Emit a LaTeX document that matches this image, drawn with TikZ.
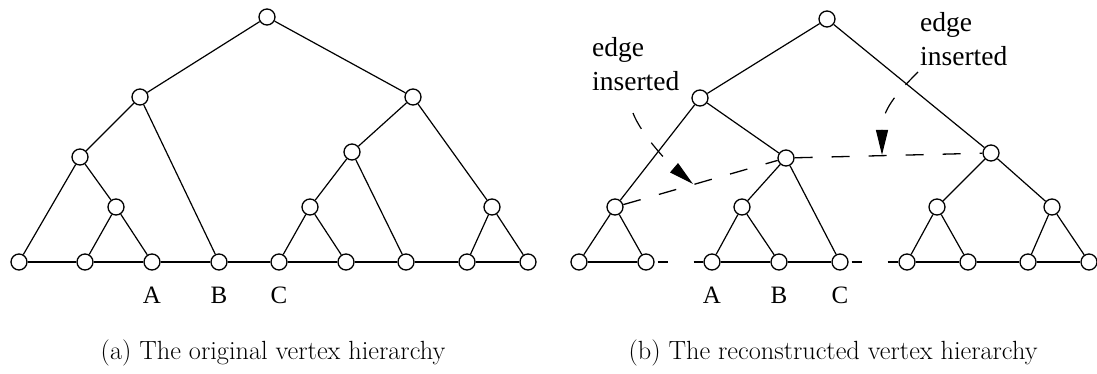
\documentclass[tikz,border=0pt]{standalone}
\usepackage{fontspec}
\newfontfamily\timesfont{Liberation Serif}
\usetikzlibrary{arrows.meta, positioning}

\begin{document}
\begin{tikzpicture}[x=1pt, y=-1pt, >={Triangle[length=25pt, width=12pt]},
    vtx/.style={circle, draw, line width=1.3pt, fill=white, minimum size=16pt, inner sep=0pt},
    tree/.style={line width=1.2pt},
    row/.style={line width=1.5pt},
    gaprow/.style={line width=1.5pt, dash pattern=on 0pt off 3pt on 10pt off 26pt on 30pt},
    inserted/.style={line width=1.3pt, dash pattern=on 18pt off 19pt},
    leader/.style={->, line width=1.2pt, dash pattern=on 18pt off 17pt},
    note/.style={font=\timesfont\fontsize{27.5}{34}\selectfont, align=left, inner sep=0pt, anchor=north west},
    leaflbl/.style={font=\timesfont\fontsize{25}{30}\selectfont, inner sep=0pt},
    subcap/.style={font=\fontsize{26.3}{30}\selectfont, anchor=base}]
  \useasboundingbox (0,0) rectangle (1097,374);

  % (a) original hierarchy
  \node[vtx] (a0) at (267,17) {};
  \node[vtx] (a1) at (140,97) {};
  \node[vtx] (a2) at (413,97) {};
  \node[vtx] (a3) at (80,157) {};
  \node[vtx] (a4) at (352,152) {};
  \node[vtx] (a5) at (116,207) {};
  \node[vtx] (a6) at (310,207) {};
  \node[vtx] (a7) at (492,207) {};
  \foreach \x [count=\i] in {19,85,152,219,279,346,406,467,528}
    \node[vtx] (al\i) at (\x,262) {};
  \foreach \i [remember=\i as \j (initially 1)] in {2,...,9}
    \draw[row] (al\j) -- (al\i);
  \foreach \u/\v in {a0/a1, a0/a2, a1/a3, a1/al4, a3/al1, a3/a5, a5/al2, a5/al3,
      a2/a4, a2/a7, a4/a6, a4/al7, a6/al5, a6/al6, a7/al8, a7/al9}
    \draw[tree] (\u) -- (\v);

  \node[leaflbl, below=16pt of al3] (aA) {A};
  \node[leaflbl, below=16pt of al4] (aB) {B};
  \node[leaflbl, below=16pt of al5] (aC) {C};

  % (b) reconstructed hierarchy
  \node[vtx] (b0) at (827,19) {};
  \node[vtx] (b1) at (700,98) {};
  \node[vtx] (b2) at (991,153) {};
  \node[vtx] (b3) at (786,158) {};
  \node[vtx] (b4) at (615,207) {};
  \node[vtx] (b5) at (742,207) {};
  \node[vtx] (b6) at (937,207) {};
  \node[vtx] (b7) at (1052,207) {};
  \foreach \x [count=\i] in {579,646,712,779,840,907,968,1028,1089}
    \node[vtx] (bl\i) at (\x,262) {};
  \foreach \u/\v in {bl1/bl2, bl3/bl4, bl4/bl5, bl6/bl7, bl7/bl8, bl8/bl9}
    \draw[row] (\u) -- (\v);
  \draw[gaprow] (bl2) -- (bl3);
  \draw[gaprow] (bl5) -- (bl6);
  \foreach \u/\v in {b0/b1, b0/b2, b1/b4, b1/b3, b3/b5, b3/bl5, b5/bl3, b5/bl4,
      b4/bl1, b4/bl2, b2/b6, b2/b7, b6/bl6, b6/bl7, b7/bl8, b7/bl9}
    \draw[tree] (\u) -- (\v);

  \draw[inserted] (b4) -- (b3);
  \draw[inserted] (b3) -- (b2);

  \node[leaflbl, below=16pt of bl3] (bA) {A};
  \node[leaflbl, below=16pt of bl4] (bB) {B};
  \node[leaflbl, below=16pt of bl5] (bC) {C};

  % notes on the inserted edges
  \node[note] (ins1) at (592,37) {edge\\inserted};
  \node[note] (ins2) at (920,12) {edge\\inserted};
  \coordinate (n1) at (633,113);
  \coordinate (n2) at (918,72);
  \coordinate (t1) at (693,184);
  \coordinate (t2) at (882,155);
  \draw[leader] (n1) .. controls (640,132) and (665,160) .. (t1);
  \draw[leader] (n2) .. controls (895,95) and (882,110) .. (t2);

  \node[subcap] (capa) at (273,359) {(a) The original vertex hierarchy};
  \node[subcap] (capb) at (833,359) {(b) The reconstructed vertex hierarchy};
\end{tikzpicture}
\end{document}
